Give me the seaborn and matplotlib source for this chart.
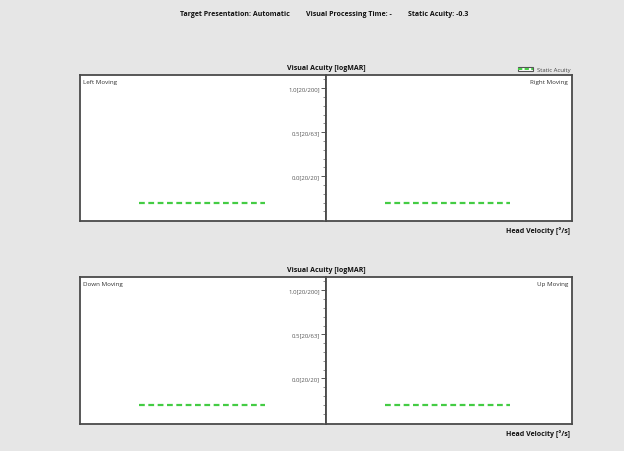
import matplotlib
matplotlib.use("Agg")
import matplotlib.pyplot as plt
import seaborn as sns
import pandas as pd
import numpy as np
from matplotlib.lines import Line2D
from matplotlib.patches import Rectangle
from matplotlib.legend_handler import HandlerTuple

# ---- data ----
panel_names = ["Left Moving", "Right Moving", "Down Moving", "Up Moving"]
head_velocity = [48, 150]          # deg/s, extent of static acuity reference line
static_acuity = [-0.3, -0.3]       # logMAR
y_major = [0.0, 0.5, 1.0]
y_major_labels = ["0.0[20/20]", "0.5[20/63]", "1.0[20/200]"]
header_items = ["Target Presentation: Automatic", "Visual Processing Time: -", "Static Acuity: -0.3"]

sns.set_theme(style="white")
plt.rcParams["font.family"] = ["Open Sans", "DejaVu Sans"]

BG = "#e6e6e6"
FRAME = "#4a4a4a"
GREEN = "#44cc44"

W, H = 624, 452
fig = plt.figure(figsize=(W / 100, H / 100), dpi=100, facecolor=BG)

def fx(px):
    return px / W

def fy(py):
    return 1 - py / H

xlim = (0, 200)
ylim = (-0.51, 1.15)

rows = [(76, 222), (278, 424.5)]
left_x, mid_x, right_x = 80, 326, 571.5

df = pd.DataFrame({"velocity": head_velocity, "acuity": static_acuity})

for r, (top, bot) in enumerate(rows):
    axes = []
    for c, (x0, x1) in enumerate([(left_x, mid_x), (mid_x, right_x)]):
        ax = fig.add_axes([fx(x0), fy(bot), fx(x1 - x0), (bot - top) / H])
        ax.set_facecolor("white")
        sns.lineplot(data=df, x="velocity", y="acuity", ax=ax, color=GREEN,
                     linewidth=1.6, dashes=False, legend=False)
        ax.lines[-1].set_dashes([2.6, 1.6])
        ax.set_xlim(*xlim)
        ax.set_ylim(*ylim)
        ax.set_xlabel("")
        ax.set_ylabel("")
        ax.set_xticks([])
        for s in ax.spines.values():
            s.set_color(FRAME)
            s.set_linewidth(1.3)
        name = panel_names[r * 2 + c]
        if c == 0:
            ax.set_yticks([])
            ax.text(0.012, 0.975, name, transform=ax.transAxes, ha="left", va="top",
                    fontsize=4.5, color="#333333")
        else:
            ax.set_yticks(y_major)
            ax.set_yticklabels(y_major_labels)
            ax.set_yticks(np.arange(-0.5, 1.15, 0.1), minor=True)
            ax.tick_params(axis="y", which="major", direction="out", length=3.3, width=0.7,
                           color="#555555", labelsize=4.3, labelcolor="#555555", pad=1.0,
                           left=True)
            ax.tick_params(axis="y", which="minor", direction="out", length=2.4, width=0.6,
                           color="#777777", left=True)
            ax.text(0.985, 0.975, name, transform=ax.transAxes, ha="right", va="top",
                    fontsize=4.5, color="#333333")
        axes.append(ax)
    fig.text(fx(mid_x), fy(top - 8), "Visual Acuity [logMAR]", ha="center", va="center",
             fontsize=5.0, fontweight="bold", color="#111111")
    fig.text(fx(570), fy(bot + 9.5), "Head Velocity [°/s]", ha="right", va="center",
             fontsize=5.0, fontweight="bold", color="#111111")
    if r == 0:
        h_box = Rectangle((0, 0), 1, 1, facecolor="white", edgecolor="#555555", linewidth=0.8)
        h_line = Line2D([0], [0], color=GREEN, linewidth=1.4, dashes=[2.2, 1.2])
        axes[1].legend([(h_box, h_line)], ["Static Acuity"],
                       handler_map={tuple: HandlerTuple(ndivide=1, pad=0)},
                       loc="lower right", bbox_to_anchor=(0.995, 1.02), frameon=False,
                       fontsize=4.3, handlelength=2.5, handleheight=0.9, handletextpad=0.6,
                       borderpad=0, borderaxespad=0, labelcolor="#444444")

header_x = [180, 306, 408]
for txt, x in zip(header_items, header_x):
    fig.text(fx(x), fy(14), txt, ha="left", va="center", fontsize=5.0,
             fontweight="bold", color="#111111")

fig.savefig("out.png", dpi=100, facecolor=BG)
